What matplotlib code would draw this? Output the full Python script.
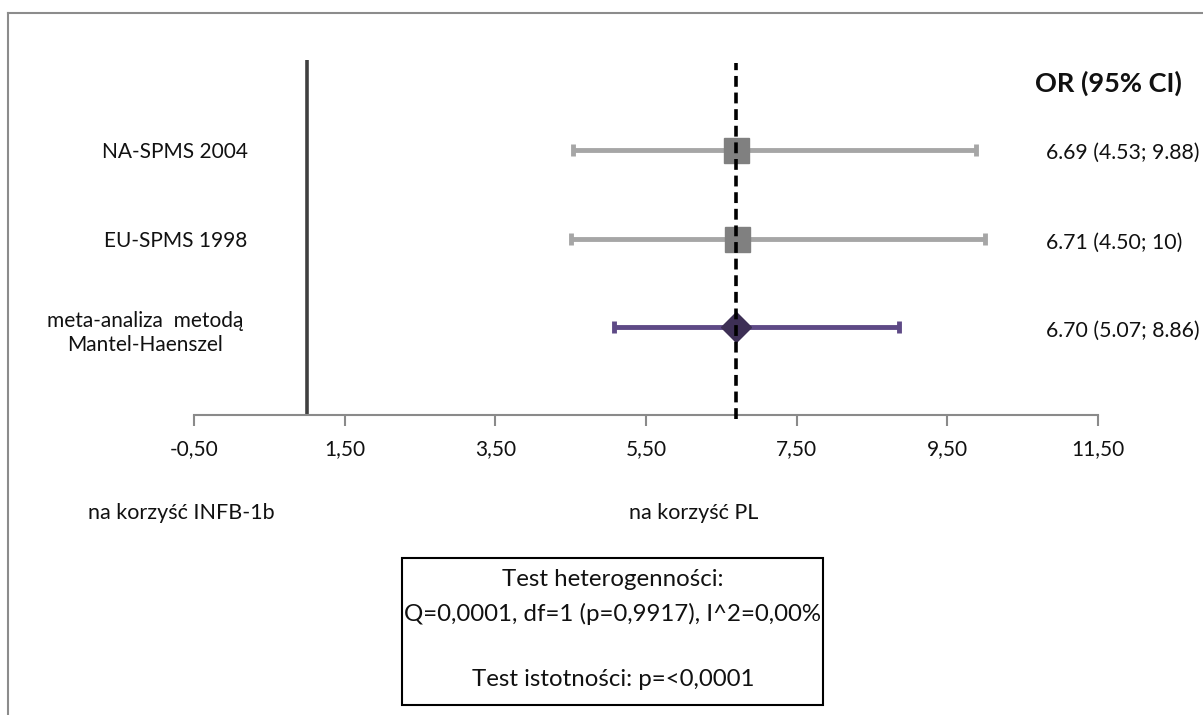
import matplotlib
matplotlib.use("Agg")
import matplotlib.pyplot as plt
from matplotlib.lines import Line2D
from matplotlib.patches import Rectangle

plt.rcParams['font.family'] = ['Lato', 'DejaVu Sans']

# Study data: odds ratio with 95% confidence interval
studies = ["NA-SPMS 2004", "EU-SPMS 1998", "meta-analiza  metodą\nMantel-Haenszel"]
or_values = [6.69, 6.71, 6.70]
ci_low = [4.53, 4.50, 5.07]
ci_high = [9.88, 10.00, 8.86]
or_labels = ["6.69 (4.53; 9.88)", "6.71 (4.50; 10)", "6.70 (5.07; 8.86)"]
x_ticks = [-0.5, 1.5, 3.5, 5.5, 7.5, 9.5, 11.5]
null_value = 1.0

W, H = 1203, 715
fig = plt.figure(figsize=(W / 100, H / 100), dpi=100)


def fx(px):
    return px / W


def fy(py):
    return 1 - py / H


# frame of the page (top and left edges)
fig.add_artist(Line2D([fx(8), 1.0], [fy(13), fy(13)], color="#8c8c8c", lw=1.5))
fig.add_artist(Line2D([fx(8), fx(8)], [fy(13), 0.0], color="#8c8c8c", lw=1.5))

ax = fig.add_axes([fx(194), fy(415), fx(1098) - fx(194), fy(62) - fy(415)])
ax.set_xlim(x_ticks[0], x_ticks[-1])
ax.set_ylim(0, 4)
for s in ["top", "right", "left"]:
    ax.spines[s].set_visible(False)
ax.spines["bottom"].set_color("#8a8a8a")
ax.spines["bottom"].set_linewidth(1.5)
ax.set_yticks([])
ax.set_xticks(x_ticks)
ax.set_xticklabels([f"{v:.2f}".replace(".", ",") for v in x_ticks])
ax.tick_params(axis="x", direction="out", length=8, width=1.5, color="#8a8a8a",
               labelsize=15, pad=9, labelcolor="#111111")

ypos = [3, 2, 1]

# null-effect line and pooled estimate line
ax.plot([null_value, null_value], [0, 4.02], color="#404040", lw=2.6,
        clip_on=False, zorder=2, solid_capstyle="butt")
ax.plot([or_values[2], or_values[2]], [-0.04, 3.99], color="black", lw=2.6,
        ls=(0, (3, 1.6)), clip_on=False, zorder=5)

for i in range(3):
    xerr = [[or_values[i] - ci_low[i]], [ci_high[i] - or_values[i]]]
    if i < 2:
        ax.errorbar(or_values[i], ypos[i], xerr=xerr, fmt="s", color="#a6a6a6",
                    ecolor="#a6a6a6", elinewidth=3.5, capsize=4, capthick=3.5,
                    markersize=18, markerfacecolor="#808080",
                    markeredgecolor="#808080", zorder=3)
    else:
        ax.errorbar(or_values[i], ypos[i], xerr=xerr, fmt="D", color="#5e4a86",
                    ecolor="#5e4a86", elinewidth=3.5, capsize=4, capthick=3.5,
                    markersize=15, markerfacecolor="#3d2f55",
                    markeredgecolor="#3d2f55", zorder=3)

# study names on the left
name_xy = [(175, 152), (176, 241), (145, 333)]
for name, (px, py) in zip(studies, name_xy):
    fig.text(fx(px), fy(py), name, ha="center", va="center", fontsize=15,
             color="#111111", linespacing=1.3)

# OR column on the right
fig.text(fx(1035), fy(83), "OR (95% CI)", ha="left", va="center",
         fontsize=19.5, fontweight="bold", color="#111111")
for lab, py in zip(or_labels, [153, 243, 331]):
    fig.text(fx(1046), fy(py), lab, ha="left", va="center", fontsize=15.3,
             color="#111111")

# direction captions
fig.text(fx(181), fy(513), "na korzyść INFB-1b", ha="center", va="center",
         fontsize=15.5, color="#111111")
fig.text(fx(694), fy(513), "na korzyść PL", ha="center", va="center",
         fontsize=15.5, color="#111111")

# heterogeneity / significance box
fig.add_artist(Rectangle((fx(402), fy(705)), fx(823) - fx(402), fy(558) - fy(705),
                         fill=False, edgecolor="black", lw=1.5))
box_lines = [("Test heterogenności:", 580),
             ("Q=0,0001, df=1 (p=0,9917), I^2=0,00%", 614),
             ("Test istotności: p=<0,0001", 680)]
for txt, py in box_lines:
    fig.text(fx(613), fy(py), txt, ha="center", va="center", fontsize=17.3,
             color="#111111")

fig.savefig("out.png", dpi=100)
